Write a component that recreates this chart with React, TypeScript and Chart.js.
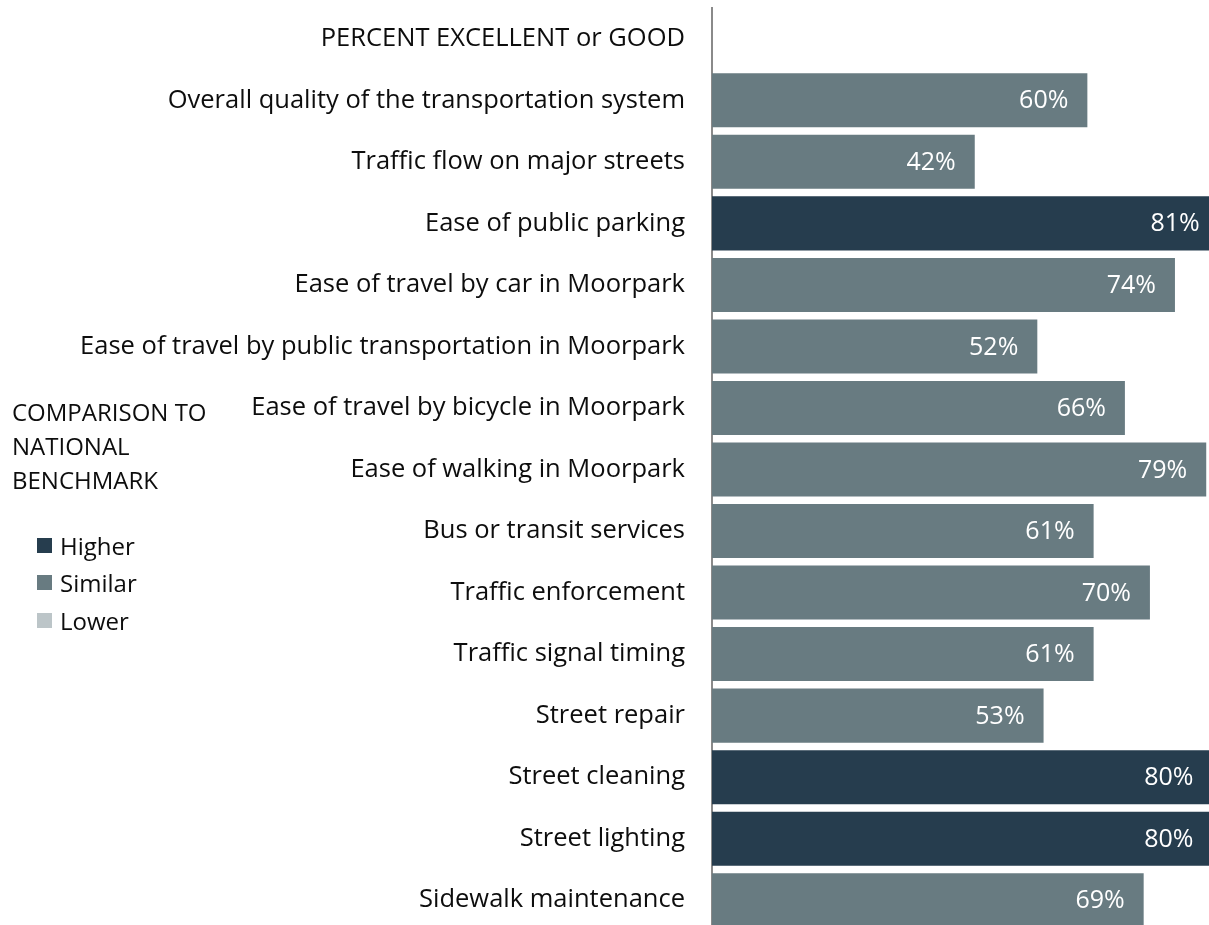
import React, { useEffect, useRef } from "react";
import { Chart, registerables } from "chart.js";

Chart.register(...registerables);

const categories = [
  "PERCENT EXCELLENT or GOOD",
  "Overall quality of the transportation system",
  "Traffic flow on major streets",
  "Ease of public parking",
  "Ease of travel by car in Moorpark",
  "Ease of travel by public transportation in Moorpark",
  "Ease of travel by bicycle in Moorpark",
  "Ease of walking in Moorpark",
  "Bus or transit services",
  "Traffic enforcement",
  "Traffic signal timing",
  "Street repair",
  "Street cleaning",
  "Street lighting",
  "Sidewalk maintenance",
];

const values: (number | null)[] = [null, 60, 42, 81, 74, 52, 66, 79, 61, 70, 61, 53, 80, 80, 69];

const comparisons = [
  "",
  "Similar",
  "Similar",
  "Higher",
  "Similar",
  "Similar",
  "Similar",
  "Similar",
  "Similar",
  "Similar",
  "Similar",
  "Similar",
  "Higher",
  "Higher",
  "Similar",
];

const legendTitle = ["COMPARISON TO", "NATIONAL", "BENCHMARK"];
const legendItems = ["Higher", "Similar", "Lower"];

const COLORS: Record<string, string> = {
  Higher: "#263d4e",
  Similar: "#687b81",
  Lower: "#bcc5c8",
  "": "#687b81",
};

const LABEL_FONT = "'Open Sans'";
const LABEL_SIZE = 25.5;
const LEGEND_SIZE = 24;
const TEXT_COLOR = "#0d0d0d";

const valueLabels = {
  id: "valueLabels",
  afterDatasetsDraw(chart: any) {
    const ctx = chart.ctx;
    const meta = chart.getDatasetMeta(0);
    ctx.save();
    ctx.fillStyle = "#ffffff";
    ctx.font = "25px 'Open Sans'";
    ctx.textAlign = "right";
    ctx.textBaseline = "middle";
    meta.data.forEach((bar: any, i: number) => {
      const v = values[i];
      if (v == null) return;
      ctx.fillText(`${v}%`, bar.x - 19, bar.y + 1);
    });
    ctx.restore();
  },
};

export default function App() {
  const ref = useRef<HTMLCanvasElement>(null);

  useEffect(() => {
    if (!ref.current) return;
    const chart = new Chart(ref.current, {
      type: "bar",
      data: {
        labels: categories,
        datasets: [
          {
            data: values as any,
            backgroundColor: comparisons.map((c) => COLORS[c]),
            categoryPercentage: 1,
            barPercentage: 0.878,
          },
        ],
      },
      options: {
        indexAxis: "y",
        responsive: false,
        animation: false,
        devicePixelRatio: 1,
        layout: { padding: { top: 8, bottom: 0, left: 0, right: 0 } },
        plugins: {
          legend: { display: false },
          tooltip: { enabled: false },
        },
        scales: {
          x: {
            display: false,
            min: 0,
            max: 82,
          },
          y: {
            grid: { display: false, drawTicks: false },
            border: { display: true, color: "#8a8a8a", width: 2 },
            ticks: {
              color: TEXT_COLOR,
              padding: 27,
              font: { family: LABEL_FONT, size: LABEL_SIZE },
            },
            afterFit(scale: any) {
              scale.width = 712;
              scale.paddingTop = 0;
              scale.paddingBottom = 0;
            },
          },
        },
      },
      plugins: [valueLabels],
    });
    return () => chart.destroy();
  }, []);

  const textStyle: React.CSSProperties = {
    fontFamily: LABEL_FONT,
    fontSize: LEGEND_SIZE,
    color: TEXT_COLOR,
  };

  return (
    <div
      style={{
        position: "fixed",
        left: 0,
        top: 0,
        width: 1209,
        height: 925,
        overflow: "hidden",
        background: "#ffffff",
      }}
    >
      <canvas ref={ref} width={1225} height={931} style={{ position: "absolute", left: 0, top: 0 }} />
      <div style={{ position: "absolute", left: 12, top: 395, lineHeight: "34px", ...textStyle }}>
        {legendTitle.map((t) => (
          <div key={t}>{t}</div>
        ))}
      </div>
      {legendItems.map((item, i) => (
        <div
          key={item}
          style={{
            position: "absolute",
            left: 37,
            top: 545 + i * 37.5 - 17,
            height: 34,
            display: "flex",
            alignItems: "center",
            ...textStyle,
          }}
        >
          <span
            style={{
              display: "inline-block",
              width: 15,
              height: 15,
              background: COLORS[item],
              marginRight: 8,
            }}
          />
          <span>{item}</span>
        </div>
      ))}
    </div>
  );
}
